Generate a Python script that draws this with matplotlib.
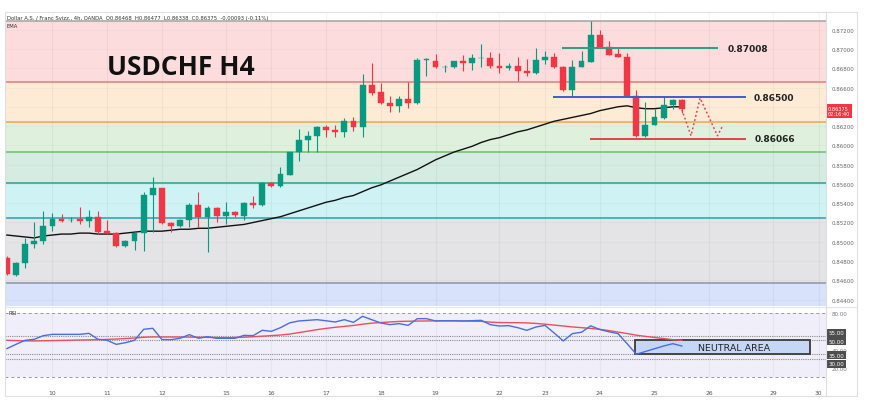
import matplotlib.pyplot as plt
from matplotlib.patches import Rectangle
from matplotlib.transforms import blended_transform_factory
import numpy as np

W, H = 870, 414

# H4 candles, OANDA USDCHF
opens = [0.84829, 0.84659, 0.84777, 0.84977, 0.85005, 0.85161, 0.85237, 0.85222, 0.85234, 0.85219,
         0.85261, 0.85109, 0.85088, 0.84954, 0.85005, 0.85091, 0.85486, 0.85555, 0.85192, 0.85161,
         0.85226, 0.85382, 0.85254, 0.85348, 0.85271, 0.85312, 0.85271, 0.85403, 0.85382, 0.85610,
         0.85576, 0.85696, 0.85928, 0.86056, 0.86100, 0.86188, 0.86160, 0.86136, 0.86250, 0.86194,
         0.86626, 0.86550, 0.86440, 0.86405, 0.86481, 0.86436, 0.86885, 0.86878, 0.86810, 0.86810,
         0.86872, 0.86851, 0.86906, 0.86906, 0.86821, 0.86800, 0.86826, 0.86775, 0.86748, 0.86881,
         0.86913, 0.86810, 0.86574, 0.86816, 0.86868, 0.87145, 0.87023, 0.86948, 0.86920, 0.86509,
         0.86100, 0.86215, 0.86284, 0.86422, 0.86468]
highs = [0.84853, 0.84788, 0.85040, 0.85209, 0.85323, 0.85299, 0.85288, 0.85254, 0.85361, 0.85330,
         0.85320, 0.85226, 0.85099, 0.85019, 0.85105, 0.85514, 0.85669, 0.85561, 0.85209, 0.85234,
         0.85403, 0.85514, 0.85368, 0.85358, 0.85410, 0.85323, 0.85416, 0.85478, 0.85617, 0.85617,
         0.85773, 0.85935, 0.86170, 0.86152, 0.86204, 0.86211, 0.86211, 0.86281, 0.86291, 0.86740,
         0.86854, 0.86647, 0.86509, 0.86509, 0.86654, 0.86903, 0.86903, 0.86948, 0.86834, 0.86878,
         0.86937, 0.86948, 0.87051, 0.86972, 0.86955, 0.86851, 0.86920, 0.86896, 0.87007, 0.86982,
         0.86955, 0.86826, 0.86885, 0.86982, 0.87293, 0.87200, 0.87086, 0.87007, 0.86955, 0.86574,
         0.86446, 0.86377, 0.86499, 0.86481, 0.86477]
lows = [0.84656, 0.84649, 0.84729, 0.84936, 0.84977, 0.85115, 0.85206, 0.85202, 0.85185, 0.85151,
        0.85081, 0.85081, 0.84950, 0.84943, 0.84918, 0.84902, 0.85105, 0.85185, 0.85099, 0.85151,
        0.85151, 0.85151, 0.84891, 0.85209, 0.85185, 0.85254, 0.85231, 0.85348, 0.85375, 0.85565,
        0.85565, 0.85690, 0.85838, 0.85928, 0.85928, 0.86084, 0.86084, 0.86084, 0.86146, 0.86084,
        0.86523, 0.86429, 0.86343, 0.86349, 0.86384, 0.86429, 0.86723, 0.86800, 0.86765, 0.86800,
        0.86775, 0.86785, 0.86810, 0.86800, 0.86751, 0.86785, 0.86671, 0.86717, 0.86740, 0.86844,
        0.86800, 0.86567, 0.86499, 0.86810, 0.86862, 0.87017, 0.86937, 0.86914, 0.86499, 0.86084,
        0.86084, 0.86210, 0.86274, 0.86377, 0.86338]
closes = [0.84667, 0.84777, 0.84977, 0.85005, 0.85161, 0.85237, 0.85219, 0.85230, 0.85216, 0.85261,
          0.85105, 0.85088, 0.84954, 0.85009, 0.85091, 0.85486, 0.85555, 0.85192, 0.85161, 0.85226,
          0.85385, 0.85254, 0.85348, 0.85271, 0.85312, 0.85278, 0.85399, 0.85382, 0.85610, 0.85576,
          0.85703, 0.85928, 0.86056, 0.86100, 0.86188, 0.86163, 0.86136, 0.86250, 0.86194, 0.86626,
          0.86543, 0.86440, 0.86405, 0.86481, 0.86436, 0.86885, 0.86895, 0.86810, 0.86815, 0.86872,
          0.86851, 0.86906, 0.86910, 0.86821, 0.86800, 0.86826, 0.86775, 0.86748, 0.86881, 0.86913,
          0.86810, 0.86574, 0.86816, 0.86872, 0.87145, 0.87023, 0.86940, 0.86920, 0.86509, 0.86100,
          0.86215, 0.86291, 0.86422, 0.86471, 0.86375]
ema = [0.8507, 0.8506, 0.8505, 0.8504, 0.8506, 0.8507, 0.8508, 0.8508, 0.8509, 0.8509,
       0.8508, 0.8508, 0.8508, 0.8509, 0.8510, 0.8511, 0.8511, 0.8511, 0.8512, 0.8513,
       0.8513, 0.8514, 0.8514, 0.8515, 0.8516, 0.8517, 0.8518, 0.8520, 0.8522, 0.8524,
       0.8526, 0.8529, 0.8532, 0.8535, 0.8538, 0.8541, 0.8543, 0.8546, 0.8548, 0.8552,
       0.8556, 0.8559, 0.8563, 0.8567, 0.8571, 0.8575, 0.8580, 0.8585, 0.8589, 0.8593,
       0.8596, 0.8599, 0.8603, 0.8606, 0.8608, 0.8611, 0.8614, 0.8616, 0.8619, 0.8622,
       0.8625, 0.8627, 0.8629, 0.8631, 0.8633, 0.8636, 0.8638, 0.8640, 0.8641, 0.8639,
       0.8638, 0.8638, 0.8639, 0.8640, 0.8640]

rsi = [41.1, 45.8, 50.2, 51.3, 55.3, 56.7, 56.7, 56.7, 56.7, 57.8,
       51.3, 50.2, 45.8, 47.6, 50.2, 62.2, 63.3, 51.0, 50.9, 52.4,
       56.4, 52.4, 54.2, 52.4, 52.4, 52.4, 55.6, 55.3, 61.1, 60.0,
       64.0, 69.2, 71.3, 72.0, 72.7, 71.5, 70.2, 72.7, 69.8, 76.4,
       72.7, 69.1, 67.3, 68.4, 66.5, 73.8, 73.8, 71.3, 71.6, 71.6,
       71.3, 71.6, 72.0, 67.3, 65.8, 66.2, 64.0, 61.1, 64.7, 66.5,
       58.2, 49.5, 57.5, 59.0, 66.0, 62.0, 59.5, 57.5, 46.5, 35.0,
       38.0, 41.0, 44.0, 46.5, 44.0]
rsi_ma = [50.2, 49.9, 49.6, 49.5, 49.7, 49.9, 50.1, 50.3, 50.5, 50.7,
          50.9, 51.2, 51.6, 52.1, 52.7, 53.5, 53.9, 53.8, 53.8, 53.8,
          53.7, 53.5, 53.4, 53.2, 53.1, 53.2, 53.6, 54.1, 54.7, 55.3,
          56.0, 57.0, 58.6, 60.2, 61.8, 63.2, 64.4, 65.4, 66.4, 67.8,
          68.9, 69.6, 70.2, 70.8, 71.0, 71.2, 71.3, 71.4, 71.4, 71.3,
          71.3, 71.1, 70.9, 70.0, 69.6, 69.5, 69.4, 69.2, 68.6, 67.8,
          66.8, 65.8, 64.8, 64.0, 63.2, 62.2, 60.8, 59.2, 57.6, 55.8,
          54.5, 53.3, 52.1, 50.9, 50.2]

day_pos = [5, 11, 17, 24, 29, 35, 41, 47, 54, 59, 65, 71, 77, 84, 89]
day_labels = ['10', '11', '12', '15', '16', '17', '18', '19', '22', '23', '24', '25', '26', '29', '30']

fib_levels = [0.87293, 0.86655, 0.86246, 0.85929, 0.85613, 0.85247, 0.84570]
fib_lines = ['#a3a3a3', '#e27a7e', '#efa54a', '#6dbf6a', '#2f9e84', '#2aa1a9', '#8f93a8']
fib_fills = ['#fcdcdd', '#fdebd5', '#dff0dc', '#d5ece2', '#cff2f5', '#e4e4e6', '#d8e3fb']

key_levels = [0.87008, 0.86500, 0.86066]
key_start = [60.9, 59.9, 63.9]
key_end = [78.0, 81.0, 81.0]
key_colors = ['#2f9c86', '#3f5bd6', '#e2424f']
key_label_x = [728, 754, 755]

path_x = [74.0, 75.0, 76.0, 77.9, 78.4]
path_y = [0.8637, 0.8610, 0.8649, 0.8610, 0.8619]

UP, DOWN = '#089981', '#f23645'


def box(x0, y0, x1, y1):
    return [x0 / W, 1 - y1 / H, (x1 - x0) / W, (y1 - y0) / H]


fig = plt.figure(figsize=(W / 100, H / 100), dpi=100)
ax = fig.add_axes(box(5, 13, 826, 307))
ar = fig.add_axes(box(5, 309, 826, 381))

# ---- main pane
ax.set_xlim(-0.2, 89.8)
ax.set_ylim(0.84334, 0.87383)
for i, top in enumerate(fib_levels):
    bot = fib_levels[i + 1] if i + 1 < len(fib_levels) else 0.84
    ax.axhspan(bot, top, color=fib_fills[i], lw=0, zorder=0)
    ax.axhline(top, color=fib_lines[i], lw=1.1, zorder=1)

yt = np.arange(0.844, 0.8721, 0.002)
for t in yt:
    ax.axhline(t, color='#000000', alpha=0.025, lw=0.7, zorder=0.5)
for d in day_pos:
    ax.axvline(d, color='#000000', alpha=0.04, lw=0.8, zorder=0.5)

x = np.arange(len(opens))
o, h, l, c = map(np.array, (opens, highs, lows, closes))
col = np.where(c >= o, UP, DOWN)
ax.plot(x, ema, color='#111111', lw=1.0, zorder=2)
ax.vlines(x, l, h, colors=col, lw=0.8, zorder=3)
ax.bar(x, np.maximum(np.abs(c - o), 0.00004), bottom=np.minimum(o, c), width=0.64,
       color=col, edgecolor=col, lw=0.3, zorder=4)

trans = blended_transform_factory(ax.transAxes, ax.transData)
for lv, s, e, cl, lx in zip(key_levels, key_start, key_end, key_colors, key_label_x):
    ax.hlines(lv, s, e, color=cl, lw=1.4, zorder=5)
    ax.text((lx - 5) / 821, lv, f'{lv:.5f}', transform=trans, va='center', ha='left',
            fontsize=6.5, fontweight='bold', color='#222222', zorder=6)
ax.plot(path_x, path_y, color='#e2424f', lw=1.1, ls=(0, (1.2, 1.6)), zorder=5)

ax.text((107 - 5) / 821, (307 - 75) / 294, 'USDCHF H4', transform=ax.transAxes,
        fontsize=19, fontweight='bold', color='#111111', va='baseline', family='Open Sans')
ax.text(0.0024, (307 - 20.5) / 294,
        'Dollar A.S. / Franc Svizz., 4h, OANDA  O0.86468  H0.86477  L0.86338  C0.86375  -0.00093 (-0.11%)',
        transform=ax.transAxes, fontsize=3.8, color='#333333', va='baseline')
ax.text(0.0024, (307 - 28.5) / 294, 'EMA', transform=ax.transAxes, fontsize=3.8,
        color='#333333', va='baseline')

# the 0.86400 label sits under the live price tag, as in the reference
ax.yaxis.tick_right()
ax.set_yticks(yt)
ax.set_yticklabels(['' if abs(t - 0.864) < 1e-6 else f'{t:.5f}' for t in yt])
ax.tick_params(axis='y', length=0, labelsize=4, colors='#666666', pad=4)
ax.set_xticks([])
for sp in ax.spines.values():
    sp.set_visible(False)
ax.text(1.002, 0.86358, '0.86375\n02:16:40', transform=trans, ha='left', va='center',
        fontsize=3.6, color='white', linespacing=1.1,
        bbox=dict(boxstyle='square,pad=0.35', fc='#f23645', ec='none'))

# ---- RSI pane
ar.set_xlim(-0.2, 89.8)
ar.set_ylim(6.9, 85.45)
ar.axhspan(10, 80, color='#f0eef9', lw=0, zorder=0)
for d in day_pos:
    ar.axvline(d, color='#000000', alpha=0.04, lw=0.8, zorder=0.5)
for lv in (80, 10):
    ar.axhline(lv, color='#9598a1', lw=0.7, ls=(0, (3, 3)), zorder=1)
for lv in (55, 50, 35, 30):
    ar.axhline(lv, color='#8c8c8c', lw=0.8, ls=(0, (1, 1)), zorder=1)
ar.add_patch(Rectangle((68.9, 35.5), 88.0 - 68.9, 50 - 35.5, fc='#c6d7f5', ec='#3a3a3a',
                       lw=1.3, zorder=2))
ar.text(79.7, 42.6, 'NEUTRAL AREA', ha='center', va='center', fontsize=6.8, color='#222222',
        family=['Liberation Sans Narrow', 'DejaVu Sans'], zorder=4)
ar.plot(x, rsi_ma, color='#e8505f', lw=1.0, zorder=3)
ar.plot(x, rsi, color='#4a6ee0', lw=1.0, zorder=3)
ar.text(0.004, 80, 'RSI', transform=blended_transform_factory(ar.transAxes, ar.transData),
        fontsize=3.8, color='#333333', va='center')

ar.yaxis.tick_right()
ar.set_yticks([80, 40, 20])
ar.set_yticklabels(['80.00', '40.00', '20.00'])
ar.tick_params(axis='y', length=0, labelsize=4, colors='#777777', pad=4)
rtrans = blended_transform_factory(ar.transAxes, ar.transData)
for val, pos in zip(['55.00', '50.00', '35.00', '30.00'], [58.2, 49.1, 33.9, 24.7]):
    ar.text(1.003, pos, val, transform=rtrans, ha='left', va='center', fontsize=4,
            color='white', bbox=dict(boxstyle='square,pad=0.3', fc='#4d4d4d', ec='none'))

ar.set_xticks(day_pos)
ar.set_xticklabels(day_labels)
ar.tick_params(axis='x', length=0, labelsize=4.3, colors='#555555', pad=7)
for sp in ar.spines.values():
    sp.set_visible(False)

# frame lines
fig.add_artist(Rectangle((5 / W, 1 - 397 / H), 852 / W, 384 / H, transform=fig.transFigure,
                         fill=False, ec='#dcdfe6', lw=0.8))
fig.add_artist(plt.Line2D([826 / W, 826 / W], [1 - 397 / H, 1 - 13 / H], color='#dcdfe6', lw=0.8))
fig.add_artist(plt.Line2D([5 / W, 857 / W], [1 - 308 / H, 1 - 308 / H], color='#e3e5ea', lw=0.8))

fig.savefig('out.png', dpi=100)
